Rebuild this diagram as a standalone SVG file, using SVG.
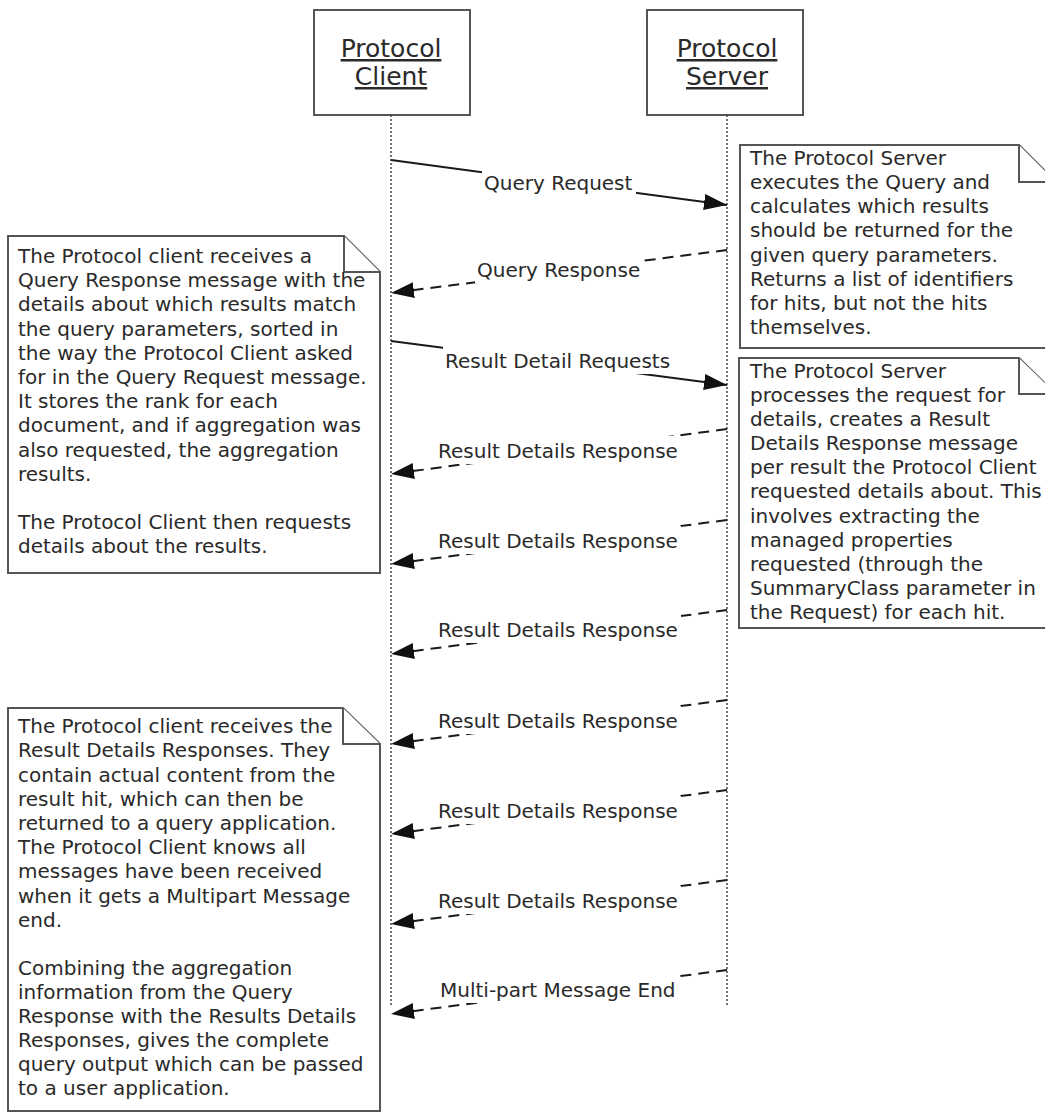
<svg xmlns="http://www.w3.org/2000/svg" width="1045" height="1113" viewBox="0 0 1045 1113">
<defs>
<style>
.box{fill:#fff;stroke:#555;stroke-width:2}
.title{font-family:"DejaVu Sans","Liberation Sans",sans-serif;font-size:25px;fill:#2a2a2a;text-anchor:middle;text-decoration:underline}
.life{stroke:#444;stroke-width:1.5;stroke-dasharray:2,2;fill:none}
.msg{stroke:#1a1a1a;stroke-width:2;fill:none}
.dash{stroke-dasharray:11,7}
.lbl{font-family:"DejaVu Sans","Liberation Sans",sans-serif;font-size:20px;fill:#2a2a2a}
.bg{fill:#fff}
.note{fill:#fff;stroke:#555;stroke-width:2}
.ntext{font-family:"DejaVu Sans","Liberation Sans",sans-serif;font-size:20px;fill:#2a2a2a}
</style>
<marker id="arr" markerUnits="userSpaceOnUse" markerWidth="26" markerHeight="18" refX="23" refY="8" orient="auto">
<path d="M0,0 L23,8 L0,16 z" fill="#111"/>
</marker>
</defs>
<rect width="1045" height="1113" fill="#fff"/>

<g id="client">
<rect class="box" x="314" y="10" width="156" height="105"/>
<text class="title" x="391" y="57">Protocol</text>
<text class="title" x="391" y="85">Client</text>
<line class="life" x1="391" y1="115" x2="391" y2="1005"/>
</g>

<g id="server">
<rect class="box" x="647" y="10" width="156" height="105"/>
<text class="title" x="727" y="57">Protocol</text>
<text class="title" x="727" y="85">Server</text>
<line class="life" x1="727" y1="115" x2="727" y2="1005"/>
</g>

<g id="connectors">
<line class="msg" x1="391" y1="160" x2="727" y2="205" marker-end="url(#arr)"/>
<line class="msg dash" x1="727" y1="250" x2="391" y2="293" marker-end="url(#arr)"/>
<line class="msg" x1="391" y1="341" x2="727" y2="385" marker-end="url(#arr)"/>
<line class="msg dash" x1="727" y1="429" x2="391" y2="474" marker-end="url(#arr)"/>
<line class="msg dash" x1="727" y1="520" x2="391" y2="564" marker-end="url(#arr)"/>
<line class="msg dash" x1="727" y1="610" x2="391" y2="654" marker-end="url(#arr)"/>
<line class="msg dash" x1="727" y1="700" x2="391" y2="744" marker-end="url(#arr)"/>
<line class="msg dash" x1="727" y1="790" x2="391" y2="834" marker-end="url(#arr)"/>
<line class="msg dash" x1="727" y1="880" x2="391" y2="924" marker-end="url(#arr)"/>
<line class="msg dash" x1="727" y1="970" x2="391" y2="1014" marker-end="url(#arr)"/>
<rect class="bg" x="482" y="168" width="154" height="28"/>
<text class="lbl" x="484" y="190">Query Request</text>
<rect class="bg" x="475" y="255" width="166" height="28"/>
<text class="lbl" x="477" y="277">Query Response</text>
<rect class="bg" x="443" y="346" width="230" height="28"/>
<text class="lbl" x="445" y="368">Result Detail Requests</text>
<rect class="bg" x="436" y="436" width="245" height="28"/>
<text class="lbl" x="438" y="458">Result Details Response</text>
<rect class="bg" x="436" y="526" width="245" height="28"/>
<text class="lbl" x="438" y="548">Result Details Response</text>
<rect class="bg" x="436" y="615" width="245" height="28"/>
<text class="lbl" x="438" y="637">Result Details Response</text>
<rect class="bg" x="436" y="706" width="245" height="28"/>
<text class="lbl" x="438" y="728">Result Details Response</text>
<rect class="bg" x="436" y="796" width="245" height="28"/>
<text class="lbl" x="438" y="818">Result Details Response</text>
<rect class="bg" x="436" y="886" width="245" height="28"/>
<text class="lbl" x="438" y="908">Result Details Response</text>
<rect class="bg" x="438" y="975" width="241" height="28"/>
<text class="lbl" x="440" y="997">Multi-part Message End</text>
</g>

<g id="note-server-1">
<path class="note" d="M740,145 L1019,145 L1056,182 L1056,348 L740,348 Z"/>
<path class="note" d="M1019,145 L1019,182 L1056,182"/>
<text class="ntext" x="750" y="165">The Protocol Server</text>
<text class="ntext" x="750" y="189">executes the Query and</text>
<text class="ntext" x="750" y="213">calculates which results</text>
<text class="ntext" x="750" y="237">should be returned for the</text>
<text class="ntext" x="750" y="262">given query parameters.</text>
<text class="ntext" x="750" y="286">Returns a list of identifiers</text>
<text class="ntext" x="750" y="310">for hits, but not the hits</text>
<text class="ntext" x="750" y="334">themselves.</text>
</g>

<g id="note-server-2">
<path class="note" d="M739,358 L1019,358 L1056,394 L1056,628 L739,628 Z"/>
<path class="note" d="M1019,358 L1019,394 L1056,394"/>
<text class="ntext" x="750" y="378">The Protocol Server</text>
<text class="ntext" x="750" y="402">processes the request for</text>
<text class="ntext" x="750" y="426">details, creates a Result</text>
<text class="ntext" x="750" y="450">Details Response message</text>
<text class="ntext" x="750" y="474">per result the Protocol Client</text>
<text class="ntext" x="750" y="498">requested details about. This</text>
<text class="ntext" x="750" y="523">involves extracting the</text>
<text class="ntext" x="750" y="547">managed properties</text>
<text class="ntext" x="750" y="571">requested (through the</text>
<text class="ntext" x="750" y="595">SummaryClass parameter in</text>
<text class="ntext" x="750" y="619">the Request) for each hit.</text>
</g>

<g id="note-client-1">
<path class="note" d="M8,236 L344,236 L380,272 L380,573 L8,573 Z"/>
<path class="note" d="M344,236 L344,272 L380,272"/>
<text class="ntext" x="18" y="263">The Protocol client receives a</text>
<text class="ntext" x="18" y="287">Query Response message with the</text>
<text class="ntext" x="18" y="311">details about which results match</text>
<text class="ntext" x="18" y="336">the query parameters, sorted in</text>
<text class="ntext" x="18" y="360">the way the Protocol Client asked</text>
<text class="ntext" x="18" y="384">for in the Query Request message.</text>
<text class="ntext" x="18" y="408">It stores the rank for each</text>
<text class="ntext" x="18" y="432">document, and if aggregation was</text>
<text class="ntext" x="18" y="457">also requested, the aggregation</text>
<text class="ntext" x="18" y="481">results.</text>
<text class="ntext" x="18" y="529">The Protocol Client then requests</text>
<text class="ntext" x="18" y="553">details about the results.</text>
</g>

<g id="note-client-2">
<path class="note" d="M8,708 L343,708 L380,744 L380,1111 L8,1111 Z"/>
<path class="note" d="M343,708 L343,744 L380,744"/>
<text class="ntext" x="18" y="733">The Protocol client receives the</text>
<text class="ntext" x="18" y="757">Result Details Responses. They</text>
<text class="ntext" x="18" y="782">contain actual content from the</text>
<text class="ntext" x="18" y="806">result hit, which can then be</text>
<text class="ntext" x="18" y="830">returned to a query application.</text>
<text class="ntext" x="18" y="854">The Protocol Client knows all</text>
<text class="ntext" x="18" y="878">messages have been received</text>
<text class="ntext" x="18" y="903">when it gets a Multipart Message</text>
<text class="ntext" x="18" y="927">end.</text>
<text class="ntext" x="18" y="975">Combining the aggregation</text>
<text class="ntext" x="18" y="999">information from the Query</text>
<text class="ntext" x="18" y="1023">Response with the Results Details</text>
<text class="ntext" x="18" y="1047">Responses, gives the complete</text>
<text class="ntext" x="18" y="1071">query output which can be passed</text>
<text class="ntext" x="18" y="1095">to a user application.</text>
</g>
</svg>
